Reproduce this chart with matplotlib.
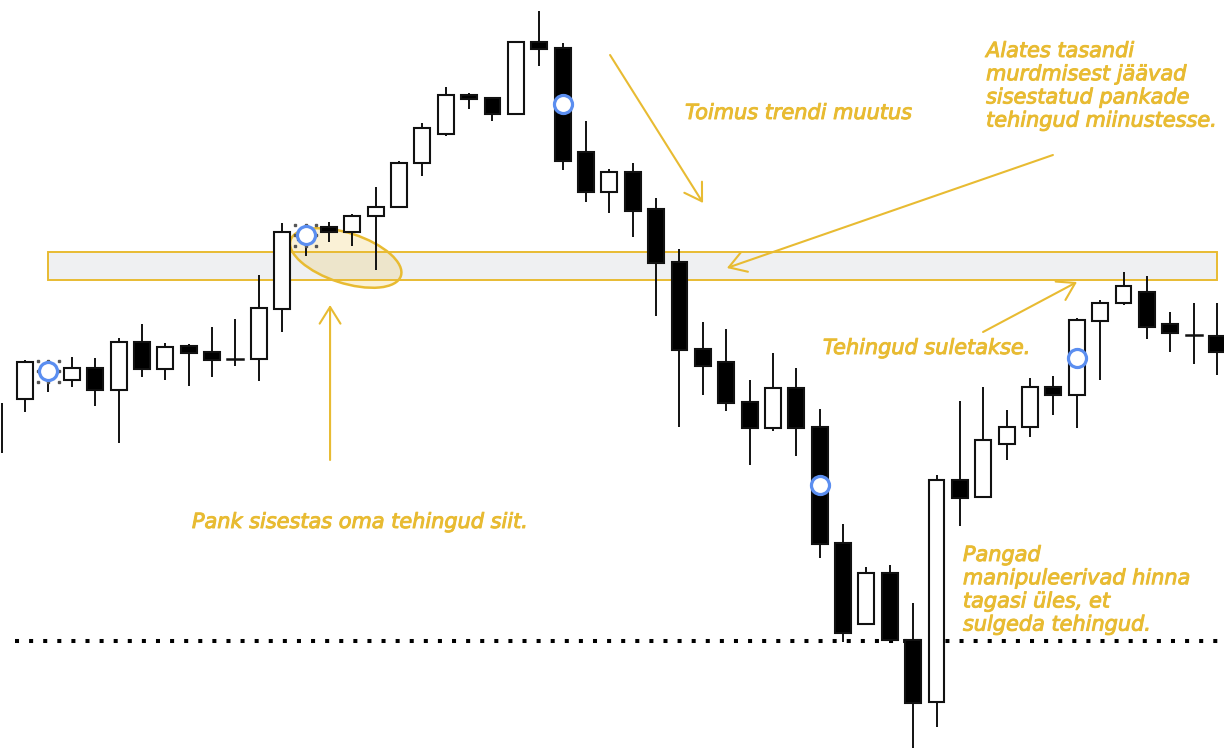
import numpy as np
import matplotlib
matplotlib.use("Agg")
import matplotlib.pyplot as plt
import matplotlib.patheffects as pe
from matplotlib.patches import Rectangle, Ellipse
from matplotlib.transforms import ScaledTranslation

# OHLC prices (first candle: only its wick is in view)
opens = [np.nan, 351, 374, 370, 382, 360, 408, 381, 404, 398, 391, 391, 441, 510, 523, 518, 534, 543,
         587, 616, 655, 652, 636, 708, 702, 598, 558, 578, 541, 488, 401, 388, 348, 322, 362, 323,
         207, 126, 177, 110, 48, 270, 253, 306, 323, 363, 355, 429, 447, 458, 426, 415, 414]
highs = [347, 390, 385, 393, 392, 412, 426, 407, 406, 423, 431, 475, 527, 520, 528, 536, 563, 589,
         627, 663, 657, 652, 708, 739, 707, 629, 581, 587, 552, 501, 428, 421, 370, 397, 382, 341,
         226, 183, 185, 147, 275, 349, 363, 340, 372, 374, 432, 450, 478, 474, 438, 447, 447]
lows = [297, 338, 358, 363, 344, 307, 373, 370, 364, 373, 384, 369, 418, 494, 508, 504, 480, 542,
        574, 614, 641, 629, 636, 684, 580, 548, 537, 513, 434, 323, 355, 339, 285, 319, 294, 192,
        108, 126, 110, 2, 23, 224, 252, 290, 313, 335, 322, 370, 445, 411, 398, 386, 375]
closes = [np.nan, 388, 383, 382, 360, 408, 381, 403, 397, 390, 391, 442, 518, 518, 518, 534, 543, 587,
          622, 655, 651, 636, 708, 701, 589, 558, 578, 539, 487, 400, 384, 347, 322, 362, 322, 206,
          117, 177, 110, 47, 270, 252, 310, 323, 363, 355, 430, 447, 464, 423, 417, 415, 398]

# marked entries (blue rings)
mark_idx = [2, 13, 24, 35, 46]
mark_price = [379, 515, 646, 265, 392]
selected = [2, 13]

# resistance zone and support level
zone_start, zone_end = 2, 52
zone_low, zone_high = 470, 498
support = 109

gold = "#e8bb32"
ink = "#111111"

fig = plt.figure(figsize=(12.24, 7.49), dpi=100)
ax = fig.add_axes([0, 0, 1, 1])
ax.set_xlim(-0.073, 52.3)
ax.set_ylim(1, 750)
ax.axis("off")

# zone
ax.add_patch(Rectangle((zone_start, zone_low), zone_end - zone_start, zone_high - zone_low,
                       facecolor="#eff0f2", edgecolor=gold, lw=1.4, zorder=1))

# dotted support line
ax.plot([0.55, 52.3], [support, support], color="black", lw=2.9,
        linestyle=(0, (1, 2.5)), dash_capstyle="butt", zorder=2)

# ellipse around the entry candles, sized in inches around a data point
etr = fig.dpi_scale_trans + ScaledTranslation(14.72, 492, ax.transData)
ax.add_patch(Ellipse((0, 0), 1.16, 0.5, angle=-18, facecolor=gold, alpha=0.2,
                     edgecolor="none", transform=etr, zorder=2.5))
ax.add_patch(Ellipse((0, 0), 1.16, 0.5, angle=-18, facecolor="none", edgecolor=gold,
                     lw=1.8, transform=etr, zorder=2.6))

# candles
w = 0.68
for i in range(len(highs)):
    ax.plot([i, i], [lows[i], highs[i]], color=ink, lw=1.4, zorder=3, solid_capstyle="butt")
    o, c = opens[i], closes[i]
    if np.isnan(o):
        continue
    if o == c:
        ax.plot([i - w / 2, i + w / 2], [o, o], color=ink, lw=1.8, zorder=4)
        continue
    face = "white" if c > o else "black"
    ax.add_patch(Rectangle((i - w / 2, min(o, c)), w, abs(c - o), facecolor=face,
                           edgecolor=ink, lw=1.5, zorder=4))

# blue rings
ax.plot(mark_idx, mark_price, "o", ms=13, mfc="white", mec="#5b8ef0", mew=2.3, zorder=7)
for i in selected:
    p = mark_price[mark_idx.index(i)]
    dx, dy = 0.45, 10.5
    xs = [i - dx, i, i + dx, i - dx, i + dx, i - dx, i, i + dx]
    ys = [p + dy, p + dy, p + dy, p, p, p - dy, p - dy, p - dy]
    ax.plot(xs, ys, "s", ms=1.6, color="#555555", zorder=6)

# arrows
arrows = [((14.05, 290), (14.05, 445)),
          ((26.03, 695), (30.01, 547)),
          ((44.98, 595), (31.03, 482)),
          ((41.99, 418), (46.01, 468))]
for start, end in arrows:
    ax.annotate("", xy=end, xytext=start,
                arrowprops=dict(arrowstyle="->,head_length=0.8,head_width=0.5", color=gold,
                                lw=1.5, mutation_scale=15, shrinkA=0, shrinkB=0), zorder=6)

tkw = dict(color=gold, fontsize=15, style="italic", family="DejaVu Sans", zorder=8,
           path_effects=[pe.withStroke(linewidth=0.7, foreground=gold)])
ax.text(8.14, 228, "Pank sisestas oma tehingud siit.", va="center", ha="left", **tkw)
ax.text(29.24, 637, "Toimus trendi muutus", va="center", ha="left", **tkw)
ax.text(42.12, 709, "Alates tasandi\nmurdmisest jäävad\nsisestatud pankade\ntehingud miinustesse.",
        va="top", ha="left", linespacing=1.2, **tkw)
ax.text(41.13, 205, "Pangad\nmanipuleerivad hinna\ntagasi üles, et\nsulgeda tehingud.",
        va="top", ha="left", linespacing=1.2, **tkw)
ax.text(35.14, 402, "Tehingud suletakse.", va="center", ha="left", **tkw)

fig.savefig("out.png", dpi=100)
